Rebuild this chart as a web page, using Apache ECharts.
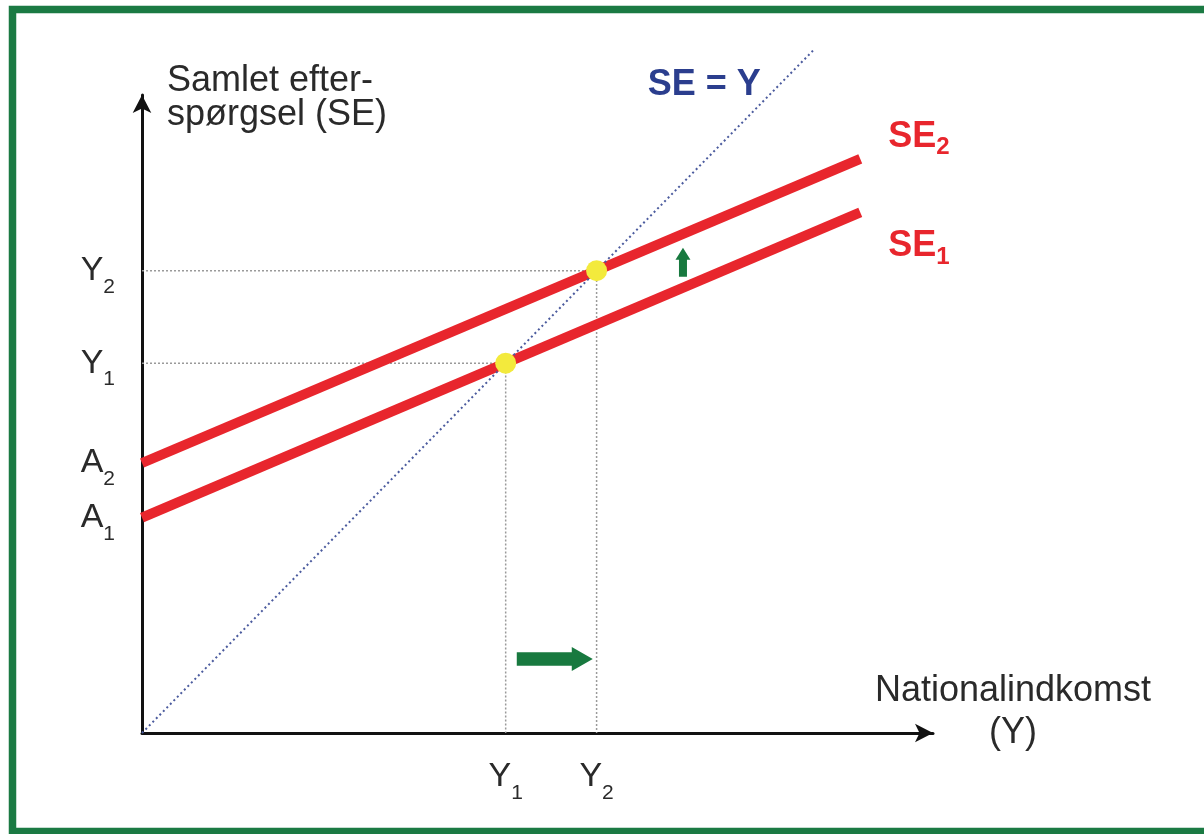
<!DOCTYPE html>
<html>
<head>
<meta charset="utf-8">
<script src="https://cdn.jsdelivr.net/npm/echarts@6/dist/echarts.min.js"></script>
<style>
html, body { margin: 0; padding: 0; background: #fff; }
#chart { width: 1204px; height: 834px; }
</style>
</head>
<body>
<div id="chart"></div>
<script>
// keynesian cross: SE shifts from SE1 to SE2, income goes from Y1 to Y2
const se1Line = [[0, 23.3], [79, 56.3]];
const se2Line = [[0, 29.2], [79, 62.1]];
const seEqualsY = [[0, 0], [74, 74]];
const equilibria = [[40, 40], [50, 50]];
const guideY1 = [[0, 40], [40, 40], [40, 0]];
const guideY2 = [[0, 50], [50, 50], [50, 0]];
const shiftRight = [[45.4, 8.0]];
const shiftUp = [[59.5, 50.9]];

const yTickValues = [23.3, 29.2, 40, 50];
const yTickLabels = [['A', '1'], ['A', '2'], ['Y', '1'], ['Y', '2']];
const xTickValues = [40, 50];
const xTickLabels = [['Y', '1'], ['Y', '2']];

const FONT = "'Liberation Sans', Arial, sans-serif";
const TXT = '#2a2a2a';
const RED = '#e8262d';
const GREEN = '#18793f';

function tickFormatter(values, labels) {
  return function (v) {
    let best = 0;
    values.forEach(function (t, i) {
      if (Math.abs(t - v) < Math.abs(values[best] - v)) best = i;
    });
    const l = labels[best];
    return '{m|' + l[0] + '}{s|' + l[1] + '}';
  };
}

const tickRich = {
  m: { fontSize: 34, fontFamily: FONT, color: TXT, lineHeight: 54 },
  s: { fontSize: 21, fontFamily: FONT, color: TXT, lineHeight: 21, verticalAlign: 'bottom' }
};

function seRich(color) {
  return {
    m: { fontSize: 36, fontWeight: 'bold', fontFamily: FONT, color: color, lineHeight: 46 },
    s: { fontSize: 24, fontWeight: 'bold', fontFamily: FONT, color: color, lineHeight: 24, verticalAlign: 'bottom' }
  };
}

const arrowPath = 'path://M0,5L55,5L55,0L76,11.5L55,23L55,18L0,18Z';
const smallArrowPath = 'path://M0,3.5L17,3.5L17,0L29,7.5L17,15L17,11.5L0,11.5Z';

const chart = echarts.init(document.getElementById('chart'));

const option = {
  backgroundColor: '#fff',
  animation: false,
  graphic: [{
    type: 'rect',
    shape: { x: 12.5, y: 9.5, width: 1250, height: 822 },
    style: { fill: 'none', stroke: '#1b7a43', lineWidth: 7.5 },
    z: 100
  }],
  grid: { left: 142, top: 95, right: 271, bottom: 101 },
  xAxis: {
    type: 'value',
    min: 0,
    max: 87,
    splitLine: { show: false },
    axisTick: { show: false },
    axisLine: {
      symbol: ['none', 'arrow'],
      symbolSize: [14, 18],
      lineStyle: { color: '#111', width: 3 }
    },
    axisLabel: {
      customValues: xTickValues,
      formatter: tickFormatter(xTickValues, xTickLabels),
      margin: 17,
      rich: tickRich
    },
    // trailing blank line lifts the two-line name above the axis
    name: 'Nationalindkomst\n(Y)\n ',
    nameLocation: 'end',
    nameGap: 80,
    nameTextStyle: {
      fontSize: 36, fontFamily: FONT, color: TXT, lineHeight: 42,
      align: 'center', verticalAlign: 'middle'
    }
  },
  yAxis: {
    type: 'value',
    min: 0,
    max: 69,
    splitLine: { show: false },
    axisTick: { show: false },
    axisLine: {
      symbol: ['none', 'arrow'],
      symbolSize: [14, 18],
      lineStyle: { color: '#111', width: 3 }
    },
    axisLabel: {
      customValues: yTickValues,
      formatter: tickFormatter(yTickValues, yTickLabels),
      margin: 27,
      rich: tickRich
    },
    name: 'Samlet efter-\nspørgsel (SE)',
    nameLocation: 'end',
    nameGap: -3,
    nameTextStyle: {
      fontSize: 36, fontFamily: FONT, color: TXT, lineHeight: 34,
      align: 'left', verticalAlign: 'middle', padding: [0, 0, 0, 25]
    }
  },
  series: [
    {
      type: 'line', data: guideY1, symbol: 'none', silent: true, z: 1,
      lineStyle: { color: '#9a9a9a', width: 1.5, type: [2, 2] }
    },
    {
      type: 'line', data: guideY2, symbol: 'none', silent: true, z: 1,
      lineStyle: { color: '#9a9a9a', width: 1.5, type: [2, 2] }
    },
    {
      name: 'SE1', type: 'line', data: se1Line, symbol: 'none', z: 2,
      lineStyle: { color: RED, width: 10 },
      endLabel: {
        show: true, formatter: '{m|SE}{s|1}', offset: [20, 34], rich: seRich(RED)
      }
    },
    {
      name: 'SE2', type: 'line', data: se2Line, symbol: 'none', z: 2,
      lineStyle: { color: RED, width: 10 },
      endLabel: {
        show: true, formatter: '{m|SE}{s|2}', offset: [20, -22], rich: seRich(RED)
      }
    },
    {
      name: 'SE = Y', type: 'line', data: seEqualsY, symbol: 'none', z: 3, clip: false,
      lineStyle: { color: '#4b5b9e', width: 2, type: [2, 3] },
      endLabel: {
        show: true, formatter: 'SE = Y', align: 'right', offset: [-62, 36],
        fontSize: 36, fontWeight: 'bold', fontFamily: FONT, color: '#2b3e8e'
      }
    },
    {
      type: 'scatter', data: equilibria, symbol: 'circle', symbolSize: 21, z: 4,
      itemStyle: { color: '#f3ea3c', opacity: 1 }
    },
    {
      type: 'scatter', data: shiftRight, symbol: arrowPath, symbolSize: [76, 24], z: 4,
      itemStyle: { color: GREEN, opacity: 1 }
    },
    {
      type: 'scatter', data: shiftUp, symbol: smallArrowPath, symbolSize: [29, 15],
      symbolRotate: 90, z: 4,
      itemStyle: { color: GREEN, opacity: 1 }
    }
  ]
};

chart.setOption(option);
</script>
</body>
</html>
